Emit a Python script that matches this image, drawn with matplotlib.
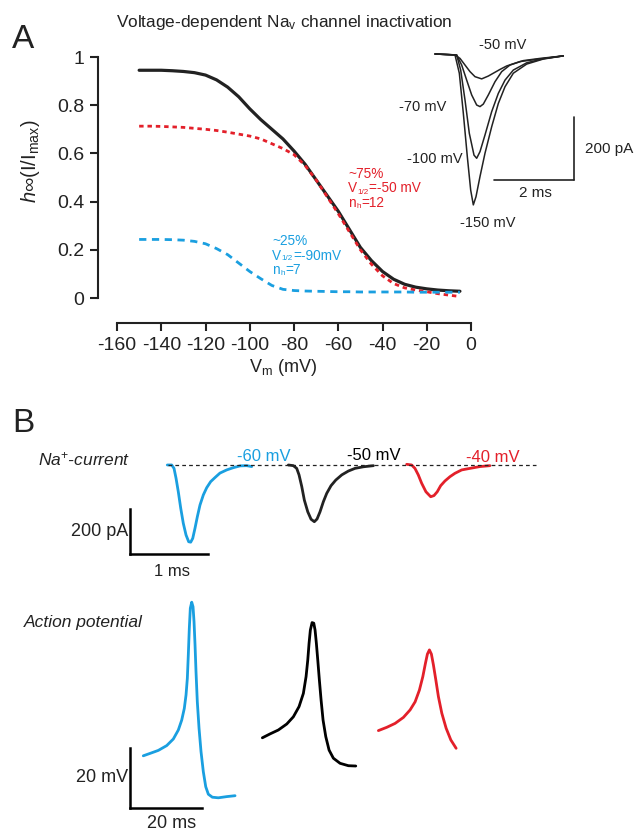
import matplotlib
matplotlib.use("Agg")
import matplotlib.pyplot as plt

plt.rcParams["font.family"] = ["Liberation Sans", "DejaVu Sans"]
plt.rcParams["mathtext.fontset"] = "custom"
plt.rcParams["mathtext.rm"] = "Liberation Sans"
plt.rcParams["mathtext.it"] = "Liberation Sans:italic"
plt.rcParams["axes.unicode_minus"] = False
plt.rcParams["lines.solid_joinstyle"] = "round"
plt.rcParams["lines.solid_capstyle"] = "round"

W, H = 634, 832
BLUE = "#1a9fe0"
RED = "#e3202a"
DARK = "#222222"

# ---- panel A: steady-state inactivation curves ----
vm = [-150, -145, -140, -135, -130, -125, -120, -115, -110, -105, -100, -95, -90,
      -85, -80, -75, -70, -65, -60, -55, -50, -45, -40, -35, -30, -25, -20, -15, -10, -5]
h_total = [0.945, 0.945, 0.945, 0.943, 0.94, 0.935, 0.925, 0.905, 0.875, 0.835, 0.785, 0.74, 0.70,
           0.66, 0.61, 0.555, 0.49, 0.425, 0.36, 0.285, 0.21, 0.155, 0.11, 0.078, 0.057, 0.045,
           0.038, 0.033, 0.03, 0.028]
h_fast = [0.713, 0.713, 0.712, 0.71, 0.708, 0.704, 0.70, 0.695, 0.688, 0.68, 0.672, 0.66, 0.64,
          0.62, 0.595, 0.55, 0.49, 0.42, 0.35, 0.275, 0.2, 0.14, 0.092, 0.06, 0.042, 0.033,
          0.026, 0.018, 0.012, 0.006]
h_slow = [0.243, 0.243, 0.243, 0.242, 0.24, 0.235, 0.225, 0.205, 0.18, 0.145, 0.11, 0.08, 0.052,
          0.036, 0.031, 0.029, 0.028, 0.027, 0.026, 0.026, 0.025, 0.025, 0.025, 0.025, 0.025, 0.024,
          0.024, 0.024, 0.024, 0.024]
vm_ticks = [-160, -140, -120, -100, -80, -60, -40, -20, 0]
h_ticks = [0, 0.2, 0.4, 0.6, 0.8, 1]
h_ticklabels = ["0", "0.2", "0.4", "0.6", "0.8", "1"]

# inset: Na current traces at different prepulses (ms, pA)
inset_labels = ["-50 mV", "-70 mV", "-100 mV", "-150 mV"]
t_50 = [0, 0.5, 0.625, 0.75, 0.875, 1.0, 1.167, 1.333, 1.458, 1.625, 1.792, 2.125, 2.542, 3.208]
i_50 = [0, -3, -14, -35, -56, -72, -79, -70, -61, -49, -38, -24, -17, -6]
t_70 = [0, 0.542, 0.667, 0.792, 0.917, 1.042, 1.125, 1.208, 1.333, 1.5, 1.667, 1.875, 2.208,
        2.625, 3.208]
i_70 = [0, -3, -35, -83, -130, -162, -167, -159, -130, -88, -56, -35, -21, -14, -6]
t_100 = [0, 0.542, 0.642, 0.75, 0.858, 0.975, 1.042, 1.125, 1.25, 1.417, 1.583, 1.75, 1.958,
         2.292, 2.708, 3.208]
i_100 = [0, -3, -51, -146, -252, -321, -331, -310, -257, -183, -125, -83, -51, -28, -15, -6]
t_150 = [0, 0.5, 0.608, 0.708, 0.808, 0.892, 0.958, 1.025, 1.125, 1.25, 1.417, 1.583, 1.75,
         1.958, 2.292, 2.708, 3.208]
i_150 = [0, -3, -61, -188, -326, -432, -479, -453, -389, -315, -231, -157, -104, -61, -32, -16, -6]

# ---- panel B: Na currents (ms, pA) and action potentials (ms, mV) ----
b_labels = ["-60 mV", "-50 mV", "-40 mV"]
b_colors = [BLUE, "black", RED]
cur_onsets = [0.478, 2.03, 3.547]
cur_t_60 = [0, 0.056, 0.086, 0.112, 0.141, 0.172, 0.205, 0.240, 0.274, 0.300, 0.326, 0.355, 0.385,
            0.419, 0.462, 0.505, 0.556, 0.611, 0.675, 0.761, 0.846, 0.932, 1.018, 1.082]
cur_i_60 = [0, 0, -15, -59, -119, -192, -259, -311, -341, -343, -326, -281, -230, -178, -133,
            -101, -74, -56, -36, -22, -12, -4, -3, -7]
cur_t_50 = [0, 0.064, 0.107, 0.137, 0.172, 0.205, 0.249, 0.291, 0.333, 0.368, 0.406, 0.449, 0.492,
            0.547, 0.608, 0.685, 0.769, 0.855, 0.962, 1.091]
cur_i_50 = [0, -3, -15, -44, -96, -156, -208, -241, -252, -240, -208, -163, -126, -92, -67, -44,
            -27, -15, -8, -3]
cur_t_40 = [0, 0.064, 0.106, 0.149, 0.192, 0.247, 0.308, 0.350, 0.392, 0.436, 0.491, 0.555, 0.619,
            0.705, 0.812, 0.940, 1.068]
cur_i_40 = [3, 0, -15, -44, -81, -119, -141, -136, -119, -92, -71, -52, -37, -22, -15, -7, -3]

ap_t_60 = [3.69, 5.56, 7.86, 10.19, 12.03, 13.42, 14.36, 15.08, 15.56, 15.92, 16.19, 16.47, 16.75,
           17.14, 17.5, 17.78, 18.06, 18.33, 18.69, 19.17, 19.72, 20.36, 21.03, 21.75, 22.86,
           24.53, 26.86, 29.17]
ap_v_60 = [-62.6, -61.8, -60.8, -59.2, -57.0, -54.0, -50.7, -46.8, -42.3, -36.8, -29.0, -20.1,
           -13.4, -11.4, -12.9, -17.9, -25.7, -34.6, -44.6, -53.4, -61.2, -67.9, -72.9, -75.4,
           -76.4, -76.6, -76.2, -75.9]
ap_t_50 = [36.75, 38.89, 41.19, 43.53, 45.36, 46.94, 48.14, 48.89, 49.36, 49.72, 50.08, 50.56,
           51.03, 51.39, 51.75, 52.14, 52.58, 53.06, 53.61, 54.36, 55.28, 56.47, 58.33, 60.64, 62.69]
ap_v_50 = [-56.6, -55.3, -54.0, -52.0, -49.6, -46.2, -41.8, -36.2, -30.7, -25.1, -20.7, -18.2,
           -18.4, -20.7, -25.1, -30.7, -37.3, -44.0, -50.7, -56.2, -60.7, -63.4, -65.1, -65.9, -66.0]
ap_t_40 = [68.97, 71.31, 73.61, 75.92, 77.78, 79.17, 80.36, 81.31, 82.03, 82.58, 83.14, 83.69,
           84.25, 84.92, 85.64, 86.58, 87.78, 89.08, 90.56]
ap_v_40 = [-54.2, -53.1, -51.8, -49.8, -47.3, -44.6, -40.7, -36.2, -31.8, -28.7, -27.3, -28.7,
           -32.3, -37.3, -42.9, -48.4, -53.4, -57.3, -60.1]


def rect(left, top, right, bottom):
    return [left / W, 1 - bottom / H, (right - left) / W, (bottom - top) / H]


def ftext(fig, x, y, s, **kw):
    kw.setdefault("va", "center")
    kw.setdefault("color", DARK)
    return fig.text(x / W, 1 - y / H, s, **kw)


def sub_label(fig, host, x, y, base, sub, rest, color, size):
    # base text, a small subscript sitting on the base's bottom edge, then the remainder
    t0 = ftext(fig, x, y, base, ha="left", va="bottom", fontsize=size, color=color)
    t1 = host.annotate(sub, xy=(1, 0), xycoords=t0, xytext=(0.3, 0), textcoords="offset points",
                       ha="left", va="bottom", fontsize=size * 0.6, color=color,
                       annotation_clip=False)
    host.annotate(rest, xy=(1, 0), xycoords=(t1, t0), xytext=(0.3, 0), textcoords="offset points",
                  ha="left", va="bottom", fontsize=size, color=color, annotation_clip=False)


fig = plt.figure(figsize=(W / 100, H / 100), dpi=100)

# main curve axes
ax = fig.add_axes(rect(98, 57, 480, 323))
ax.plot(vm, h_total, color=DARK, lw=2.3)
ax.plot(vm, h_fast, color=RED, lw=2.0, ls=(0, (1.6, 1.4)), dash_capstyle="butt")
ax.plot(vm, h_slow, color=BLUE, lw=2.0, ls=(0, (2.6, 2.0)), dash_capstyle="butt")
ax.set_xlim(-168.6, 4.07)
ax.set_ylim(-0.1037, 1.0)
for s in ("top", "right"):
    ax.spines[s].set_visible(False)
ax.spines["left"].set_bounds(0, 1)
ax.spines["bottom"].set_bounds(-160, 0)
for s in ("left", "bottom"):
    ax.spines[s].set_linewidth(1.5)
    ax.spines[s].set_color(DARK)
ax.set_xticks(vm_ticks)
ax.set_xticklabels([str(v) for v in vm_ticks])
ax.set_yticks(h_ticks)
ax.set_yticklabels(h_ticklabels)
ax.tick_params(direction="out", length=6, width=1.5, colors=DARK, labelsize=14, pad=4)
ax.patch.set_alpha(0)

ftext(fig, 30, 161, r"$h$∞(I/I$_{\mathrm{max}}$)", rotation=90, ha="center", fontsize=14.5)
ftext(fig, 283, 368, r"V$_{\mathrm{m}}$ (mV)", ha="center", fontsize=13)
ftext(fig, 116, 22, r"Voltage-dependent Na$_{\mathrm{v}}$ channel inactivation", ha="left",
      fontsize=12.4)
ftext(fig, 12, 40, "A", ha="left", fontsize=24)
ftext(fig, 12, 424, "B", ha="left", fontsize=24)

ftext(fig, 348, 181, "~75%", ha="left", va="bottom", fontsize=9.8, color=RED)
sub_label(fig, ax, 348, 195.5, "V", "1/2", "=-50 mV", RED, 9.8)
sub_label(fig, ax, 348, 210, "n", "h", "=12", RED, 9.8)
ftext(fig, 272, 248, "~25%", ha="left", va="bottom", fontsize=9.8, color=BLUE)
sub_label(fig, ax, 272, 262.5, "V", "1/2", "=-90mV", BLUE, 9.8)
sub_label(fig, ax, 272, 277, "n", "h", "=7", BLUE, 9.8)

# inset traces
axi = fig.add_axes(rect(390, 35, 634, 235))
for t, i in ((t_50, i_50), (t_70, i_70), (t_100, i_100), (t_150, i_150)):
    axi.plot(t, i, color=DARK, lw=1.1)
axi.plot([3.475, 3.475], [-200, -400], color=DARK, lw=1.2)
axi.plot([1.475, 3.475], [-400, -400], color=DARK, lw=1.2)
axi.set_xlim(-1.125, 4.975)
axi.set_ylim(-574.6, 60.3)
axi.axis("off")
ftext(fig, 503, 45, inset_labels[0], ha="center", fontsize=10.5)
ftext(fig, 423, 107, inset_labels[1], ha="center", fontsize=10.5)
ftext(fig, 435, 159, inset_labels[2], ha="center", fontsize=10.5)
ftext(fig, 488, 223, inset_labels[3], ha="center", fontsize=10.5)
ftext(fig, 585, 149, "200 pA", ha="left", fontsize=11)
ftext(fig, 535, 193, "2 ms", ha="center", fontsize=11)

# B: currents
axc = fig.add_axes(rect(100, 440, 560, 580))
for onset, t, i, c in zip(cur_onsets, (cur_t_60, cur_t_50, cur_t_40),
                          (cur_i_60, cur_i_50, cur_i_40), b_colors):
    axc.plot([onset + v for v in t], i, color=c if c != "black" else DARK, lw=2.0)
axc.plot([0.487, 5.205], [0, 0], color=DARK, lw=0.9, ls=(0, (3, 2.5)))
axc.plot([0, 0], [-195.6, -395.6], color="black", lw=1.8, solid_capstyle="projecting")
axc.plot([0, 1], [-395.6, -395.6], color="black", lw=1.8, solid_capstyle="projecting")
axc.set_xlim(-0.385, 5.513)
axc.set_ylim(-511, 111)
axc.axis("off")
ftext(fig, 264, 456, b_labels[0], ha="center", fontsize=12, color=BLUE)
ftext(fig, 374, 455, b_labels[1], ha="center", fontsize=12, color="black")
ftext(fig, 493, 457, b_labels[2], ha="center", fontsize=12, color=RED)
ftext(fig, 38, 459, r"Na$^{+}$-current", ha="left", fontsize=12.5, style="italic")
ftext(fig, 128, 532, "200 pA", ha="right", fontsize=13)
ftext(fig, 172, 572, "1 ms", ha="center", fontsize=12)

# B: action potentials
axa = fig.add_axes(rect(100, 595, 560, 830))
for t, v, c in zip((ap_t_60, ap_t_50, ap_t_40), (ap_v_60, ap_v_50, ap_v_40), b_colors):
    axa.plot(t, v, color=c, lw=2.0)
axa.plot([0, 0], [-80, -60], color="black", lw=1.8, solid_capstyle="projecting")
axa.plot([0, 20], [-80, -80], color="black", lw=1.8, solid_capstyle="projecting")
axa.set_xlim(-8.33, 119.4)
axa.set_ylim(-87.33, -9)
axa.axis("off")
ftext(fig, 24, 623, "Action potential", ha="left", fontsize=12.5, style="italic")
ftext(fig, 128, 777, "20 mV", ha="right", fontsize=13)
ftext(fig, 172, 823, "20 ms", ha="center", fontsize=13)

fig.savefig("out.png", dpi=100)
